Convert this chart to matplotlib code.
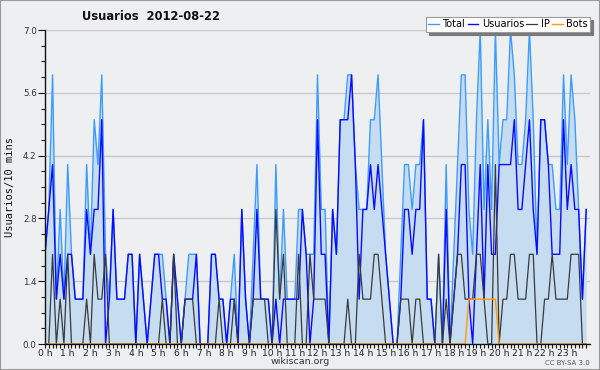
import numpy as np
import matplotlib
matplotlib.use("Agg")
import matplotlib.pyplot as plt
from matplotlib.patches import Rectangle

# ---- data (10-minute slots, 2012-08-22) ----
total = [
    2, 3, 6, 1, 3, 1, 4, 2, 1, 1, 1, 4,
    2, 5, 4, 6, 2, 1, 3, 1, 1, 1, 2, 2,
    0, 2, 1, 0, 1, 2, 2, 2, 1, 0, 2, 1,
    0, 1, 2, 2, 2, 0, 0, 0, 2, 2, 1, 1,
    0, 1, 2, 0, 3, 1, 0, 2, 4, 1, 1, 1,
    0, 4, 1, 3, 1, 1, 1, 3, 3, 2, 2, 2,
    6, 3, 3, 0, 3, 2, 5, 5, 6, 6, 4, 3,
    3, 3, 5, 5, 6, 4, 2, 1, 0, 0, 2, 4,
    4, 3, 4, 4, 5, 1, 1, 0, 2, 0, 4, 0,
    2, 4, 6, 6, 3, 2, 5, 7, 3, 5, 3, 7,
    4, 5, 5, 7, 6, 4, 4, 5, 7, 5, 2, 5,
    5, 4, 4, 3, 3, 6, 4, 6, 5, 3, 1, 3,
]
usuarios = [
    2, 3, 4, 1, 2, 1, 2, 2, 1, 1, 1, 3,
    2, 3, 3, 5, 0, 1, 3, 1, 1, 1, 2, 2,
    0, 2, 1, 0, 1, 2, 2, 1, 1, 0, 2, 1,
    0, 1, 1, 1, 2, 0, 0, 0, 2, 2, 1, 1,
    0, 1, 1, 0, 3, 1, 0, 1, 3, 1, 1, 1,
    0, 1, 0, 1, 1, 1, 1, 1, 3, 2, 0, 1,
    5, 2, 2, 0, 3, 2, 5, 5, 5, 6, 4, 1,
    3, 3, 4, 3, 4, 3, 2, 1, 0, 0, 1, 3,
    3, 2, 3, 3, 5, 1, 1, 0, 0, 0, 3, 0,
    1, 2, 4, 4, 1, 0, 2, 4, 1, 4, 2, 2,
    4, 4, 4, 4, 5, 3, 3, 4, 5, 3, 2, 5,
    5, 4, 2, 2, 2, 5, 3, 4, 3, 3, 1, 3,
]
ip = [
    0, 0, 2, 0, 1, 0, 2, 0, 0, 0, 0, 1,
    0, 2, 1, 1, 2, 0, 0, 0, 0, 0, 0, 0,
    0, 0, 0, 0, 0, 0, 0, 1, 0, 0, 2, 0,
    0, 1, 1, 1, 0, 0, 0, 0, 0, 0, 1, 0,
    0, 0, 1, 0, 0, 0, 0, 1, 1, 1, 1, 0,
    0, 3, 1, 2, 0, 0, 0, 2, 0, 0, 2, 1,
    1, 1, 1, 0, 0, 0, 0, 0, 1, 0, 0, 2,
    1, 1, 1, 2, 2, 1, 0, 0, 0, 0, 1, 1,
    1, 0, 1, 1, 0, 0, 0, 0, 2, 0, 1, 0,
    1, 2, 2, 1, 1, 1, 2, 2, 1, 0, 0, 4,
    0, 1, 1, 2, 2, 1, 1, 1, 2, 2, 0, 0,
    1, 1, 2, 1, 1, 1, 1, 2, 2, 2, 0, 0,
]
bots = [
    0, 0, 0, 0, 0, 0, 0, 0, 0, 0, 0, 0,
    0, 0, 0, 0, 0, 0, 0, 0, 0, 0, 0, 0,
    0, 0, 0, 0, 0, 0, 0, 0, 0, 0, 0, 0,
    0, 0, 0, 0, 0, 0, 0, 0, 0, 0, 0, 0,
    0, 0, 0, 0, 0, 0, 0, 0, 0, 0, 0, 0,
    0, 0, 0, 0, 0, 0, 0, 0, 0, 0, 0, 0,
    0, 0, 0, 0, 0, 0, 0, 0, 0, 0, 0, 0,
    0, 0, 0, 0, 0, 0, 0, 0, 0, 0, 0, 0,
    0, 0, 0, 0, 0, 0, 0, 0, 0, 0, 0, 0,
    0, 0, 0, 0, 1, 1, 1, 1, 1, 1, 1, 1,
    0, 0, 0, 0, 0, 0, 0, 0, 0, 0, 0, 0,
    0, 0, 0, 0, 0, 0, 0, 0, 0, 0, 0, 0,
]
hour_labels = [f"{h} h" for h in range(24)]
y_ticks = [0.0, 1.4, 2.8, 4.2, 5.6, 7.0]
series_names = ["Total", "Usuarios", "IP", "Bots"]

title = "Usuarios  2012-08-22"
ylabel = "Usuarios/10 mins"

# ---- figure ----
BG = "#eeeff1"
fig = plt.figure(figsize=(6, 3.7), dpi=100, facecolor=BG)
ax = fig.add_axes([45 / 600, 1 - 344 / 370, 545 / 600, 314 / 370])
ax.set_facecolor(BG)

x = np.arange(len(total)) / 6.0

c_total, c_user, c_ip, c_bots = "#3d9cff", "#0a0aff", "#3a3a3a", "#ff9a00"
ax.fill_between(x, 0, total, color="#c6ddf1", lw=0, zorder=1)
l1, = ax.plot(x, total, color=c_total, lw=1.0, zorder=3)
l2, = ax.plot(x, usuarios, color=c_user, lw=1.0, zorder=4)
l3, = ax.plot(x, ip, color=c_ip, lw=0.9, zorder=5)
l4, = ax.plot(x, bots, color=c_bots, lw=1.0, zorder=6)

ax.set_xlim(0, 24)
ax.set_ylim(0, 7.0)

ax.set_xticks(range(24))
ax.set_xticklabels(hour_labels, fontsize=6.6, color="#222222")
ax.set_xticks(np.arange(0, 24, 1 / 6), minor=True)
ax.tick_params(axis="x", which="both", direction="out", length=3, width=0.8,
               pad=0.5, color="#111111")

ax.set_yticks(y_ticks)
ax.set_yticklabels([f"{v:.1f}" for v in y_ticks], fontsize=6.3, color="#333333")
ax.set_yticks(np.arange(0, 7.01, 0.35), minor=True)
ax.tick_params(axis="y", which="major", direction="out", length=5, width=0.8,
               pad=1, color="#111111")
ax.tick_params(axis="y", which="minor", direction="out", length=3, width=0.8,
               color="#111111")

ax.grid(axis="y", which="major", color="#c9c9c9", lw=1.0, zorder=0)
ax.set_axisbelow(True)
for s in ["top", "right"]:
    ax.spines[s].set_visible(False)
for s in ["left", "bottom"]:
    ax.spines[s].set_color("#111111")
    ax.spines[s].set_linewidth(1.0)
    ax.spines[s].set_zorder(7)

fig.text(151 / 600, 1 - 17 / 370, title, fontsize=8.3, fontweight="bold",
         ha="center", va="center", color="#111111")
fig.text(10 / 600, 1 - 187 / 370, ylabel, family="DejaVu Sans Mono",
         fontsize=7.5, rotation=90, ha="center", va="center", color="#111111")
fig.text(300 / 600, 1 - 362 / 370, "wikiscan.org", fontsize=6.8, ha="center",
         va="center", color="#333333")
fig.text(590 / 600, 1 - 363 / 370, "CC BY-SA 3.0", fontsize=5.0, ha="right",
         va="center", color="#555555")

leg = fig.legend([l1, l2, l3, l4], series_names, loc="upper right",
                 bbox_to_anchor=(590 / 600, 1 - 17 / 370), ncol=4,
                 fontsize=7.0, handlelength=1.1, handletextpad=0.35,
                 columnspacing=0.25, borderpad=0.25, borderaxespad=0,
                 fancybox=False, framealpha=1,
                 shadow={"facecolor": "#7a7a7a", "edgecolor": "#7a7a7a", "alpha": 1})
leg.get_frame().set_edgecolor("#999999")
leg.get_frame().set_linewidth(0.8)

fig.patches.append(Rectangle((0, 0), 1, 1, transform=fig.transFigure,
                             fill=False, edgecolor="#9a9a9a", lw=1.5))

fig.savefig("out.png", dpi=100, facecolor=BG)
